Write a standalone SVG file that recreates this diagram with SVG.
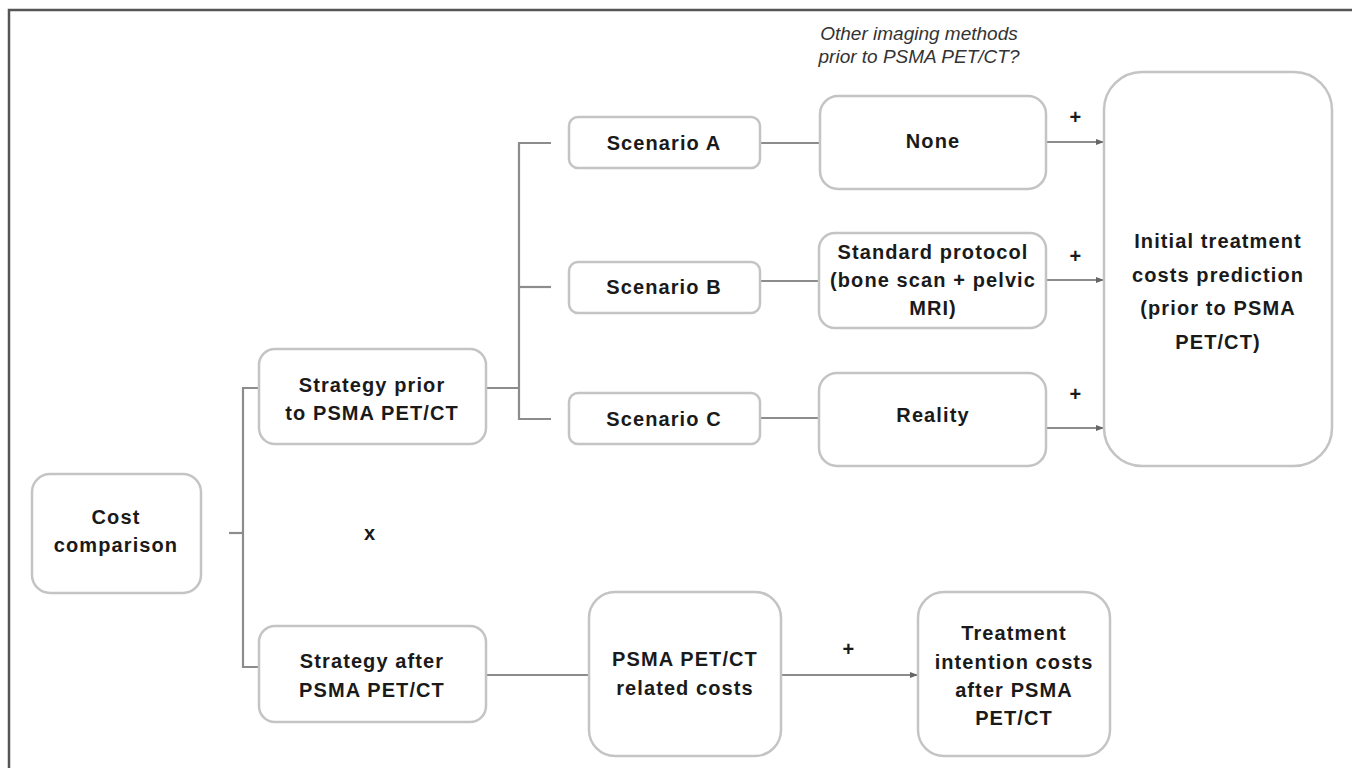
<svg xmlns="http://www.w3.org/2000/svg" width="1352" height="768" viewBox="0 0 1352 768">
<defs>
<style>
.box{fill:#fff;stroke:#c4c4c4;stroke-width:2.5}
.ln{fill:none;stroke:#8c8c8c;stroke-width:2.2}
.t{font-family:"Liberation Sans",Arial,sans-serif;font-weight:bold;font-size:20px;letter-spacing:1.1px;fill:#1a1a1a;text-anchor:middle}
.it{font-family:"Liberation Sans",Arial,sans-serif;font-style:italic;font-size:19px;fill:#333;text-anchor:middle}
.frame{stroke:#555;stroke-width:2.5;fill:none}
</style>
<marker id="ah" viewBox="0 0 8 6" refX="8" refY="3" markerWidth="8" markerHeight="6" markerUnits="userSpaceOnUse" orient="auto">
<path d="M0,0 L8,3 L0,6 z" fill="#666"/>
</marker>
</defs>
<rect width="1352" height="768" fill="#fff"/>
<path class="frame" d="M9,768 L9,10 L1352,10"/>
<text class="it" x="919" y="40">Other imaging methods</text>
<text class="it" x="919" y="63">prior to PSMA PET/CT?</text>
<g id="connectors">
<path class="ln" d="M229,533 H243"/>
<path class="ln" d="M259,388 H243 V667 H259"/>
<path class="ln" d="M486,388 H519"/>
<path class="ln" d="M551,143 H519 V419 H551"/>
<path class="ln" d="M519,287 H551"/>
<path class="ln" d="M760,143 H820"/>
<path class="ln" d="M760,281 H819"/>
<path class="ln" d="M760,418 H819"/>
<path class="ln" d="M1046,142 H1104" marker-end="url(#ah)"/>
<path class="ln" d="M1046,280 H1104" marker-end="url(#ah)"/>
<path class="ln" d="M1046,428 H1104" marker-end="url(#ah)"/>
<path class="ln" d="M486,675 H589"/>
<path class="ln" d="M781,675 H918" marker-end="url(#ah)"/>
<text class="t" x="1076" y="124">+</text>
<text class="t" x="1076" y="263">+</text>
<text class="t" x="1076" y="401">+</text>
<text class="t" x="849" y="656">+</text>
<text class="t" x="370" y="540">x</text>
</g>
<g id="cost-comparison">
<rect class="box" x="32" y="474" width="169" height="119" rx="18"/>
<text class="t" x="116" y="524">Cost</text>
<text class="t" x="116" y="552">comparison</text>
</g>
<g id="strategy-prior">
<rect class="box" x="259" y="349" width="227" height="95" rx="16"/>
<text class="t" x="372" y="392">Strategy prior</text>
<text class="t" x="372" y="420">to PSMA PET/CT</text>
</g>
<g id="strategy-after">
<rect class="box" x="259" y="626" width="227" height="96" rx="16"/>
<text class="t" x="372" y="668">Strategy after</text>
<text class="t" x="372" y="697">PSMA PET/CT</text>
</g>
<g id="scenario-a">
<rect class="box" x="569" y="117" width="191" height="51" rx="9"/>
<text class="t" x="664" y="150">Scenario A</text>
</g>
<g id="scenario-b">
<rect class="box" x="569" y="262" width="191" height="51" rx="9"/>
<text class="t" x="664" y="294">Scenario B</text>
</g>
<g id="scenario-c">
<rect class="box" x="569" y="393" width="191" height="51" rx="9"/>
<text class="t" x="664" y="426">Scenario C</text>
</g>
<g id="none">
<rect class="box" x="820" y="96" width="226" height="93" rx="18"/>
<text class="t" x="933" y="148">None</text>
</g>
<g id="standard-protocol">
<rect class="box" x="819" y="233" width="227" height="95" rx="16"/>
<text class="t" x="933" y="259">Standard protocol</text>
<text class="t" x="933" y="287">(bone scan + pelvic</text>
<text class="t" x="933" y="315">MRI)</text>
</g>
<g id="reality">
<rect class="box" x="819" y="373" width="227" height="93" rx="18"/>
<text class="t" x="933" y="422">Reality</text>
</g>
<g id="initial-treatment">
<rect class="box" x="1104" y="72" width="228" height="394" rx="38"/>
<text class="t" x="1218" y="248">Initial treatment</text>
<text class="t" x="1218" y="282">costs prediction</text>
<text class="t" x="1218" y="315">(prior to PSMA</text>
<text class="t" x="1218" y="349">PET/CT)</text>
</g>
<g id="psma-related">
<rect class="box" x="589" y="592" width="192" height="164" rx="26"/>
<text class="t" x="685" y="666">PSMA PET/CT</text>
<text class="t" x="685" y="695">related costs</text>
</g>
<g id="treatment-intention">
<rect class="box" x="918" y="592" width="192" height="164" rx="26"/>
<text class="t" x="1014" y="640">Treatment</text>
<text class="t" x="1014" y="669">intention costs</text>
<text class="t" x="1014" y="697">after PSMA</text>
<text class="t" x="1014" y="725">PET/CT</text>
</g>
</svg>
